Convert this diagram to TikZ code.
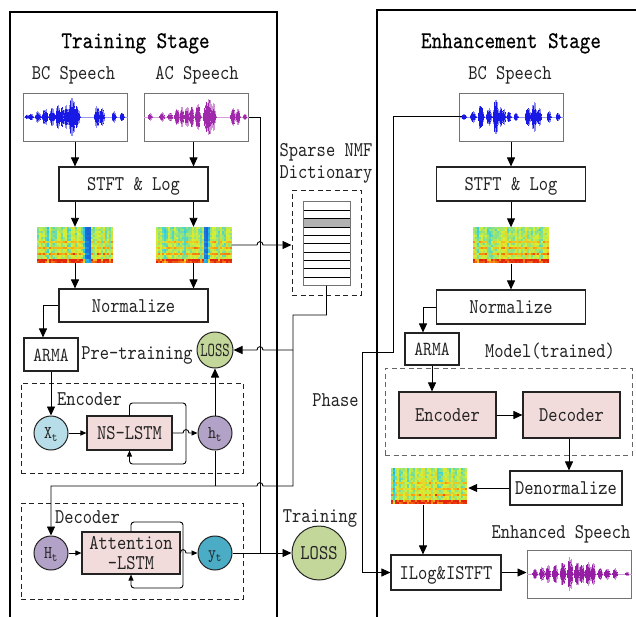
\documentclass[tikz,border=0pt]{standalone}
\usepackage{fontspec}
\newfontfamily\dgfont{lmmono10-regular.otf}[FakeStretch=0.84]
\newfontfamily\dgnarrow{lmmono10-regular.otf}[FakeStretch=0.7]
\newfontfamily\dgtitle{lmmono10-regular.otf}[FakeStretch=0.84, FakeBold=0.35]
\usetikzlibrary{arrows.meta}

\definecolor{inkc}{RGB}{35,35,35}
\definecolor{pinkbox}{RGB}{242,220,219}
\definecolor{lossgreen}{RGB}{196,215,155}
\definecolor{xblue}{RGB}{183,222,232}
\definecolor{hpurple}{RGB}{179,162,199}
\definecolor{yteal}{RGB}{75,172,198}
\definecolor{wblue}{RGB}{25,25,230}
\definecolor{wpurple}{RGB}{160,40,170}
\definecolor{wviolet}{RGB}{150,30,165}
% colour stops of the spectrogram map
\definecolor{jA}{RGB}{20,60,200}
\definecolor{jB}{RGB}{40,205,240}
\definecolor{jC}{RGB}{215,240,50}
\definecolor{jD}{RGB}{255,165,20}
\definecolor{jE}{RGB}{225,35,10}

% value in [0,1] -> colour "jetc"
\newcommand\jetcolor[1]{%
  \pgfmathsetmacro\jv{max(0,min(0.999,#1))*4}%
  \pgfmathtruncatemacro\js{\jv}%
  \pgfmathtruncatemacro\jp{100*(\jv-\js)}%
  \ifcase\js\relax
    \colorlet{jetc}{jB!\jp!jA}%
  \or \colorlet{jetc}{jC!\jp!jB}%
  \or \colorlet{jetc}{jD!\jp!jC}%
  \else \colorlet{jetc}{jE!\jp!jD}%
  \fi}

% speech waveform: colour, centre line, bumps centre/halfwidth/amplitude
\newcommand\wavedraw[3]{%
  \foreach \wc/\ww/\wa in {#3}{%
    \foreach \wk in {0,...,20}{%
      \pgfmathsetmacro\wx{\wc-\ww+\ww*\wk/10}%
      \pgfmathsetmacro\wu{(\wx-\wc)/\ww}%
      \pgfmathsetmacro\wh{\wa*(1-\wu*\wu)*(0.5+0.5*rnd)+0.7}%
      \draw[#1!50, line width=0.8pt] (\wx,#2-\wh) -- (\wx,#2+\wh);
      \pgfmathsetmacro\wh{\wa*(1-\wu*\wu)*(0.4+0.45*rnd)+0.5}%
      \draw[#1, line width=0.8pt] (\wx,#2-\wh) -- (\wx,#2+\wh);
    }}}

% spectrogram: left, top, seed, dark-column expression, base level
\newcommand\specdraw[5]{%
  \pgfmathsetseed{#3}%
  \foreach \si in {0,...,37}{%
    \pgfmathsetmacro\scol{0.2*rnd-0.13}%
    \pgfmathsetmacro\svoi{rnd>0.25}%
    \pgfmathsetmacro\sdk{#4}%
    \foreach \sj in {0,...,17}{%
      \pgfmathsetmacro\spt{\sj/17}%
      \pgfmathsetmacro\sval{(#5+\scol+0.14*(rnd-0.5)+0.06*\spt
        +(\spt>0.4)*(mod(\sj,3)==1)*(0.14+0.3*\spt)*\svoi*(0.6+0.4*rnd)
        +0.45*(\sj==17)+0.25*(\sj==16))*(1-0.8*\sdk)}%
      \jetcolor{\sval}%
      \fill[jetc] (#1+2*\si,#2+2*\sj) rectangle ++(2.25,2.25);
    }}}

\tikzset{
  every node/.style={font={\dgfont\fontsize{21}{25}\selectfont}, text=inkc},
  box/.style={draw=inkc, line width=1.1pt, fill=white, inner sep=0pt,
    text height=13pt, text depth=0pt},
  pinkrect/.style={box, fill=pinkbox},
  wbox/.style={draw=black!55, line width=1pt, fill=white, inner sep=0pt},
  spec/.style={inner sep=0pt, minimum width=76pt, minimum height=36pt},
  circ/.style={circle, draw=inkc, line width=1pt, inner sep=0pt,
    minimum size=34pt, text height=11pt, text depth=0pt,
    font={\dgfont\fontsize{18}{20}\selectfont}},
  lbl/.style={inner sep=0pt, text height=13pt, text depth=0pt},
  ttl/.style={inner sep=0pt, text height=14.7pt, text depth=0pt,
    font={\dgtitle\fontsize{24}{28}\selectfont}, text=black},
  dbox/.style={draw=inkc, line width=1pt, dash pattern=on 5pt off 3.5pt,
    inner sep=0pt},
  conn/.style={line width=0.9pt, draw=black},
  arr/.style={conn, -{Triangle[length=9pt,width=8pt]}},
  sarr/.style={conn, -{Triangle[length=6pt,width=5pt]}},
  frame/.style={line width=1.8pt, draw=black},
}

\begin{document}
\begin{tikzpicture}[x=1pt, y=-1pt]
\useasboundingbox (0,0) rectangle (636,616);

% stage frames
\draw[frame] (10,620) -- (10,12) -- (277,12) -- (277,620);
\draw[frame] (377,620) -- (377,10) -- (640,10);

%================ training stage ================
\node[ttl] (ttrain) at (135.5,40.7) {Training Stage};
\node[lbl] (bclbl) at (73.5,73) {BC Speech};
\node[lbl] (aclbl) at (197,73) {AC Speech};

\node[wbox, minimum width=104pt, minimum height=48pt] (bcw) at (75,117) {};
\draw[wblue!45, line width=0.4pt] (bcw.west) -- (bcw.east);
\pgfmathsetseed{5}
\wavedraw{wblue}{117}{27/2/2, 31/2/3, 38/3/5, 45/3/8, 52/3/10, 58/2.5/13, 62/2/11, 66/2/12, 72/4/21, 77/3/12, 97/3/11, 102/2.5/9, 114/2/6, 122/2/4}

\node[wbox, minimum width=104pt, minimum height=48pt] (acw) at (196,117) {};
\draw[wpurple!45, line width=0.4pt] (acw.west) -- (acw.east);
\wavedraw{wpurple}{117}{150/2/3, 162/2.5/4, 170/2.5/4, 177/2.5/8, 182/2/10, 187/2.5/11, 192/2/11, 198/3/13, 208/5/20, 213/3/14, 233/2.5/10, 238/2/8, 245/1.5/3}

\node[box, minimum width=149pt, minimum height=34pt] (stft1) at (133.5,184) {STFT \& Log};

\node[spec] (sl) at (75,245) {};
\specdraw{37}{227}{3}{(\si>=24)*(\si<=26)+0.5*(\si==23)+0.45*(\si==5)+0.35*(\si==15)}{0.46}
\node[spec] (sr) at (193.5,245) {};
\specdraw{155.5}{227}{7}{(\si>=24)*(\si<=25)+0.45*(\si==26)+0.35*(\si==4)+0.3*(\si==14)}{0.46}

\node[box, minimum width=149pt, minimum height=33pt] (norm1) at (133.5,305.5) {Normalize};
\node[box, minimum width=54pt, minimum height=33pt,
  font={\dgfont\fontsize{20}{24}\selectfont}] (arma1) at (51,354.5) {ARMA};
\node[lbl] (pretrain) at (137,353) {Pre-training};
\node[circ, fill=lossgreen, minimum size=36pt,
  font={\dgnarrow\fontsize{20}{24}\selectfont}, text height=12.5pt] (loss1) at (215,350) {LOSS};

% encoder
\node[dbox, minimum width=222pt, minimum height=90pt] (encarea) at (132,428) {};
\node[lbl] (enclbl) at (89.5,398.5) {Encoder};
\node[circ, fill=xblue] (xt) at (51,433) {X\textsubscript{t}};
\node[pinkrect, minimum width=85pt, minimum height=34pt] (nslstm) at (129.5,433) {NS-LSTM};
\node[circ, fill=hpurple] (ht) at (215,433) {h\textsubscript{t}};

% decoder
\node[dbox, minimum width=222pt, minimum height=96pt] (decarea) at (132,551) {};
\node[lbl] (declbl) at (87.5,517) {Decoder};
\node[circ, fill=hpurple] (Ht) at (51,553) {H\textsubscript{t}};
\node[pinkrect, minimum width=98pt, minimum height=42pt, align=center,
  text height=33.5pt] (att) at (131,553) {Attention\\[-4.5pt]-LSTM};
\node[circ, fill=yteal] (yt) at (215,553) {y\textsubscript{t}};

\node[circ, fill=lossgreen, minimum size=54pt, text height=13pt,
  font={\dgfont\fontsize{21}{25}\selectfont}] (loss2) at (319,553) {LOSS};
\node[lbl] (trainlbl) at (320,516) {Training};

% dictionary
\node[lbl] (dictlbla) at (326,149.7) {Sparse NMF};
\node[lbl] (dictlblb) at (326,171.8) {Dictionary};
\node[dbox, minimum width=69pt, minimum height=105pt] (dictbox) at (326.5,242.5) {};
\fill[black!30] (303,218.67) rectangle (350,227);
\foreach \r in {1,...,9} \draw[black, line width=0.8pt] (303,202+8.333*\r) -- (350,202+8.333*\r);
\node[draw=black!55, line width=1pt, minimum width=47pt, minimum height=83.3pt, inner sep=0pt] (dict) at (326.5,243.5) {};

\node[lbl] (phaselbl) at (335.5,399.5) {Phase};

%================ enhancement stage ================
\node[ttl] (tenh) at (511,40.7) {Enhancement Stage};
\node[lbl] (ebclbl) at (510,73) {BC Speech};
\node[wbox, minimum width=104pt, minimum height=48pt] (ebcw) at (511,117) {};
\draw[wblue!45, line width=0.4pt] (ebcw.west) -- (ebcw.east);
\wavedraw{wblue}{117}{464/2/3, 473/3/5, 481/3/13, 489/3/9, 496/3/20, 501/2/10, 504/2/8, 509/2/6, 516/2/4, 528/3/10, 534/3/15, 539/2.5/9, 549/2/6, 558/2/4}

\node[box, minimum width=149pt, minimum height=34pt] (stft2) at (511,184) {STFT \& Log};
\node[spec] (se) at (511,245.5) {};
\specdraw{473}{227}{11}{0.45*(\si==2)+0.3*(\si==10)+0.3*(\si==25)}{0.47}
\node[box, minimum width=149pt, minimum height=34pt] (norm2) at (511,307) {Normalize};
\node[box, minimum width=54pt, minimum height=32pt,
  font={\dgfont\fontsize{20}{24}\selectfont}] (arma2) at (432,349) {ARMA};
\node[lbl] (modellbl) at (550,351) {Model(trained)};
\node[dbox, draw=black!60, minimum width=247pt, minimum height=87pt] (modelarea) at (508.5,411.5) {};
\node[pinkrect, minimum width=97pt, minimum height=46pt] (enc) at (447.5,415) {Encoder};
\node[pinkrect, minimum width=97pt, minimum height=46pt] (dec) at (571.5,415) {Decoder};
\node[box, minimum width=112pt, minimum height=34pt] (denorm) at (566,488) {Denormalize};
\node[spec, minimum width=77pt, minimum height=37pt] (sd) at (429.5,486.5) {};
\specdraw{391}{468}{19}{0.45*(\si==1)+0.3*(\si==8)+0.3*(\si==20)}{0.47}
\node[box, minimum width=110pt, minimum height=35pt] (ilog) at (446,572.5) {ILog\&ISTFT};
\node[lbl] (enhlbl) at (561,532) {Enhanced Speech};
\node[wbox, minimum width=104pt, minimum height=48pt] (enhw) at (579,574) {};
\draw[wviolet!45, line width=0.4pt] (enhw.west) -- (enhw.east);
\wavedraw{wviolet}{574}{535/2.5/5, 542/2.5/7, 548/2.5/9, 555/3/10, 563/3/13, 570/3/18, 577/3/12, 582/2.5/10, 588/3/12, 593/2.5/11, 600/2.5/6, 607/3/5, 615/2.5/5, 627/1.5/2}

%================ connectors: training ================
\draw[arr] (bcw.south) -- (bcw.south |- stft1.north);
\draw[arr] ([xshift=-2.5pt]acw.south) -- ([xshift=-2.5pt]acw.south |- stft1.north);
\draw[arr] (stft1.south -| sl.north) -- (sl.north);
\draw[arr] (stft1.south -| sr.north) -- (sr.north);
\draw[arr] (sl.south) -- (sl.south |- norm1.north);
\draw[arr] (sr.south) -- (sr.south |- norm1.north);
\draw[arr] (norm1.west) -| ([xshift=-8pt]arma1.north);
\draw[arr] (arma1.south) -- (xt.north);
\draw[sarr] (xt.east) -- (nslstm.west);
\draw[sarr, rounded corners=3pt] (nslstm.north) -- (129.5,403) -- (186,403) -- (186,464) -- (129.5,464) -- (nslstm.south);
\draw[sarr] (nslstm.east) -- (183,433) .. controls (183,428.5) and (189,428.5) .. (189,433) -- (ht.west);
\draw[arr] (ht.north) -- (loss1.south);
\draw[conn] (ht.south) -- (215,486);

% dictionary atoms feed the decoder and the pre-training loss
\draw[arr] (dict.south) -- (326.5,315) -- (293,315) -- (293,486) -- (263,486)
  .. controls (263,481.5) and (257,481.5) .. (257,486) -- (51,486) -- (Ht.north);
\draw[arr] (293,350) -- (263,350) .. controls (263,345.5) and (257,345.5) .. (257,350) -- (loss1.east);

% clean reference speech joins the training loss
\draw[conn] (acw.east) -- (260,117) -- (260,553);
\draw[arr] (sr.east) -- (257,245) .. controls (257,240.5) and (263,240.5) .. (263,245) -- (dictbox.west |- sr.east);

\draw[sarr] (Ht.east) -- (att.west);
\draw[sarr, rounded corners=3pt] (att.north) -- (131,522) -- (183,522) -- (183,588) -- (131,588) -- (att.south);
\draw[sarr] (att.east) .. controls (180,548.5) and (186,548.5) .. (186,553) -- (yt.west);
\draw[arr] (yt.east) -- (loss2.west);

%================ connectors: enhancement ================
\draw[arr] (ebcw.south) -- (ebcw.south |- stft2.north);
\draw[arr] (stft2.south) -- (se.north);
\draw[arr] (se.south) -- (se.south |- norm2.north);
\draw[arr] (norm2.west) -| ([xshift=-9pt]arma2.north);
\draw[arr] (arma2.south) -- (arma2.south |- enc.north);
\draw[arr] (enc.east) -- (dec.west);
\draw[arr] ([xshift=-2.5pt]dec.south) -- ([xshift=-2.5pt]dec.south |- denorm.north);
\draw[arr] (denorm.west) -- (sd.east |- denorm.west);
\draw[arr] ([xshift=-6.5pt]sd.south) -- ([xshift=-6.5pt]sd.south |- ilog.north);
\draw[arr] (ilog.east) -- (enhw.west |- ilog.east);

% phase of the input speech goes straight to the inverse transform
\coordinate (phin) at (462,116);
\draw[arr] (phin) -- (393,116) -- (393,352) -- (362,352) -- (362,572.5) -- (ilog.west);
\end{tikzpicture}
\end{document}
